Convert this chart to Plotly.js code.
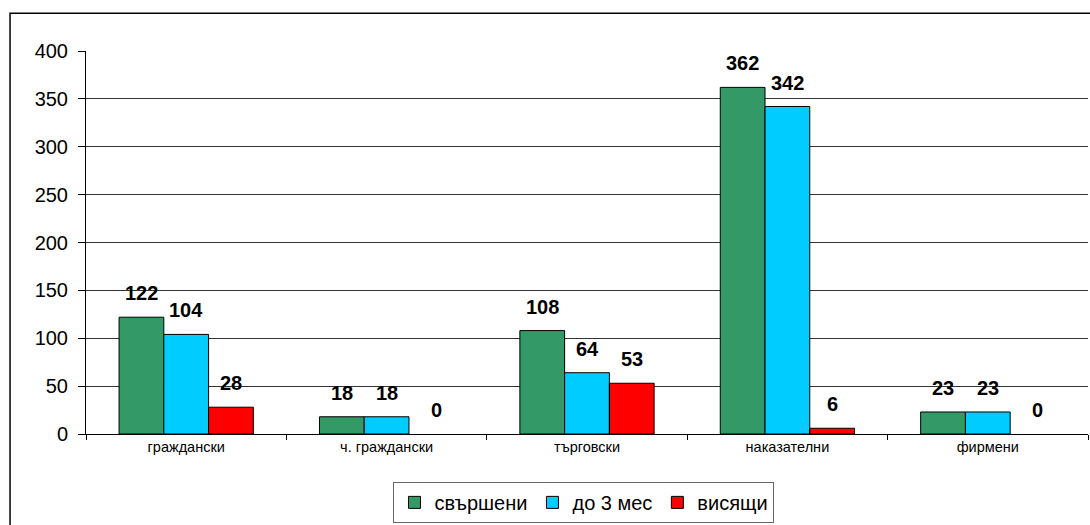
<!DOCTYPE html>
<html>
<head>
<meta charset="utf-8">
<script src="https://cdn.plot.ly/plotly-3.0.1.min.js"></script>
<style>html,body{margin:0;padding:0;background:#fff;}#chart{width:1090px;height:525px;}</style>
</head>
<body>
<div id="chart"></div>
<script>
const categories = ["граждански", "ч. граждански", "търговски", "наказателни", "фирмени"];
const seriesNames = ["свършени", "до 3 мес", "висящи"];
const doneValues = [122, 18, 108, 362, 23];
const within3Values = [104, 18, 64, 342, 23];
const pendingValues = [28, 0, 53, 6, 0];
const colors = ["#339966", "#00CCFF", "#FF0000"];
const yTicks = [0, 50, 100, 150, 200, 250, 300, 350, 400];

const W = 1090, H = 525;
const margin = {l: 86, r: 2, t: 51, b: 89};
const bargap = 0.33;
const plotW = W - margin.l - margin.r;
const catW = plotW / categories.length;
const barW = catW * (1 - bargap) / 3;

const allValues = [doneValues, within3Values, pendingValues];
const traces = allValues.map((vals, i) => ({
  type: "bar",
  name: seriesNames[i],
  x: categories,
  y: vals,
  marker: {color: colors[i], line: {color: "#000", width: vals.map(v => v === 0 ? 0 : 1)}}
}));

const annotations = [];
allValues.forEach((vals, i) => {
  vals.forEach((v, j) => {
    annotations.push({
      x: categories[j], y: v, xref: "x", yref: "y",
      text: String(v), showarrow: false,
      xanchor: "center", yanchor: "middle",
      xshift: (i - 1) * barW + (v === 0 ? 5 : 0), yshift: 24,
      font: {family: "Liberation Sans, Arial", size: 20, color: "#000", weight: "bold"}
    });
  });
});

const layout = {
  width: W, height: H,
  margin: margin,
  paper_bgcolor: "#fff", plot_bgcolor: "#fff",
  font: {family: "Liberation Sans, Arial", color: "#000"},
  barmode: "group",
  bargap: bargap, bargroupgap: 0,
  showlegend: true,
  legend: {
    orientation: "h", x: 0.497, xanchor: "center", y: -0.125, yanchor: "top",
    font: {size: 20, family: "Liberation Sans, Arial"},
    bordercolor: "#666", borderwidth: 1, bgcolor: "#fff",
    itemwidth: 30, tracegroupgap: 0
  },
  xaxis: {
    type: "category",
    showline: true, linecolor: "#000", linewidth: 1,
    ticks: "outside", tickson: "boundaries", ticklen: 5, tickcolor: "#000",
    tickfont: {size: 14.5},
    showgrid: false, zeroline: false, automargin: false
  },
  yaxis: {
    range: [0, 400], tickvals: yTicks, ticktext: yTicks.map(String),
    showline: true, linecolor: "#000", linewidth: 1,
    ticks: "outside", ticklen: 7, tickcolor: "#000",
    tickfont: {size: 20}, ticklabelstandoff: 6,
    showgrid: true, gridcolor: "#333", gridwidth: 1,
    zeroline: false, automargin: false
  },
  annotations: annotations,
  shapes: [{
    type: "rect", xref: "paper", yref: "paper",
    x0: -0.0758, x1: 1.05, y0: -0.5, y1: 1.0987,
    line: {color: "#000", width: 1.5}, fillcolor: "rgba(0,0,0,0)", layer: "below"
  }]
};

Plotly.newPlot("chart", traces, layout, {displayModeBar: false, staticPlot: true});
</script>
</body>
</html>
